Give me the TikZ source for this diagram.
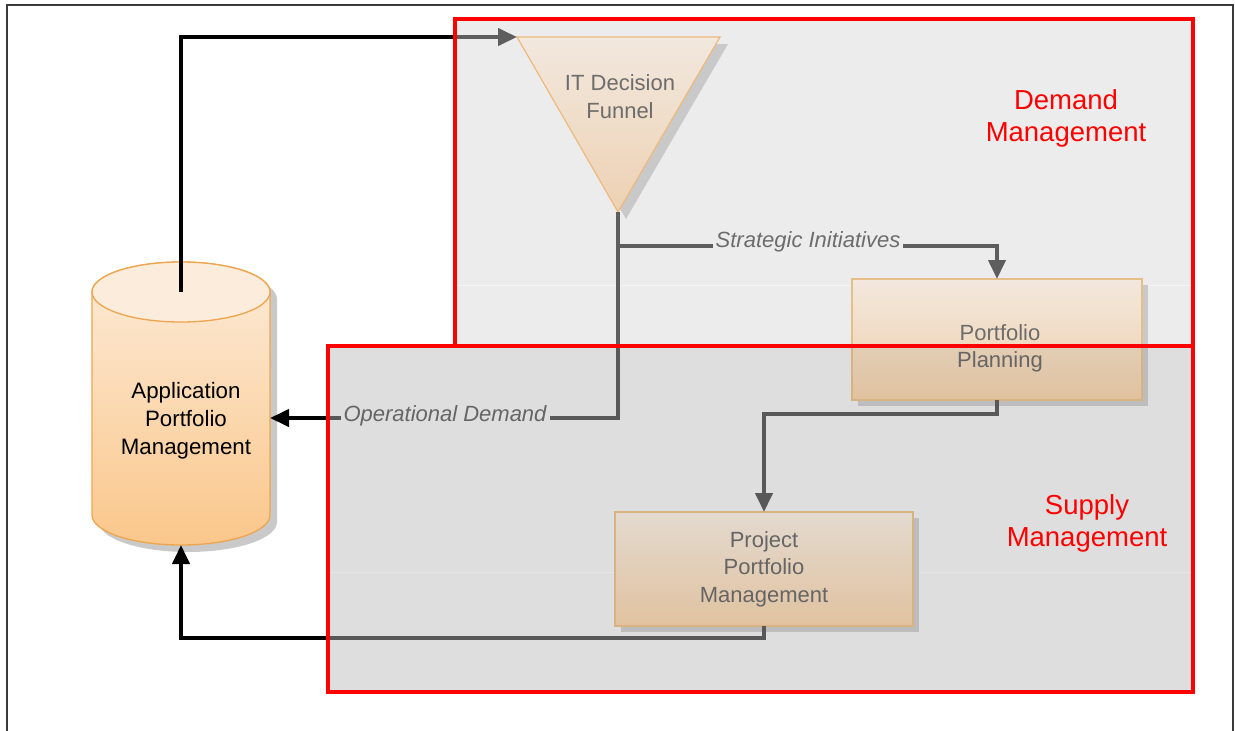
\documentclass[tikz,border=0pt]{standalone}
\usepackage{fontspec}
\setmainfont{Liberation Sans}
\usetikzlibrary{arrows.meta,calc,shadows}

\definecolor{regionbg}{HTML}{ECECEC}
\definecolor{flowgray}{HTML}{5E5E5E}
\definecolor{boxtxt}{HTML}{6C6C6C}
\definecolor{tanedge}{HTML}{E6BE88}
\definecolor{tantop}{HTML}{F2E8DD}
\definecolor{tanbot}{HTML}{F0CFAA}
\definecolor{funneltop}{HTML}{F2E8DE}
\definecolor{funnelbot}{HTML}{EDD1B3}
\definecolor{funneledge}{HTML}{EDB97E}
\definecolor{cyltop}{HTML}{FDEBD8}
\definecolor{cylbot}{HTML}{FAC78B}
\definecolor{cylcap}{HTML}{FCECDC}
\definecolor{cyledge}{HTML}{EEA54E}
\definecolor{shadowgray}{HTML}{C9C9C9}
\definecolor{regionred}{HTML}{FF0000}
\definecolor{framegray}{HTML}{3A3A3A}

\begin{document}
\begin{tikzpicture}[x=1pt,y=-1pt,
  region/.style={rectangle, draw=none, fill=regionbg, inner sep=0pt, outer sep=0pt, anchor=north west},
  solidshadow/.style={general shadow={fill=shadowgray, shadow xshift=6pt, shadow yshift=-6pt}},
  tanbox/.style={rectangle, draw=tanedge, line width=1.3pt, top color=tantop, bottom color=tanbot,
    inner sep=0pt, outer sep=0pt, solidshadow},
  boxtext/.style={font=\fontsize{22}{27.5}\selectfont, text=boxtxt, align=center},
  apptext/.style={font=\fontsize{22.3}{28}\selectfont, text=black, align=center},
  flowlabel/.style={font=\fontsize{22}{26}\selectfont\itshape, text=boxtxt, fill=regionbg,
    inner xsep=3pt, inner ysep=1pt},
  regiontitle/.style={font=\fontsize{27.5}{32}\selectfont, text=regionred, align=center},
  flow/.style={draw=flowgray, line width=4pt},
  link/.style={draw=black, line width=4pt},
  tip/.style={-{Triangle[length=19pt,width=17pt]}}
]
\useasboundingbox (0,0) rectangle (1235,731);

% region backgrounds
\node[region, minimum width=738pt, minimum height=327pt] (demand) at (455,19) {};
\node[region, minimum width=865pt, minimum height=346pt] (supply) at (328,346) {};
\draw[white, opacity=0.45, line width=0.8pt] (455,285) -- (1193,285);
\draw[white, opacity=0.45, line width=0.8pt] (328,572) -- (1193,572);

% IT decision funnel
\coordinate (ftl) at (517,37);
\coordinate (ftr) at (720,37);
\coordinate (fap) at (618,212);
\shadedraw[top color=funneltop, bottom color=funnelbot, draw=funneledge, line width=1.2pt,
  general shadow={fill=shadowgray, shadow xshift=8pt, shadow yshift=-7pt}]
  (ftl) -- (ftr) -- (fap) -- cycle;
\node[boxtext] (funnel) at (620,96.5) {IT Decision\\Funnel};

% application portfolio cylinder
\coordinate (apptop) at (181,292);
\coordinate (appbot) at (181,545);
\coordinate (appeast) at (270,418);
\shadedraw[top color=cyltop, bottom color=cylbot, draw=cyledge, line width=1.3pt,
  general shadow={fill=shadowgray, shadow xshift=7pt, shadow yshift=-7pt}]
  (92,292) -- (92,515) arc[start angle=180, end angle=360, x radius=89pt, y radius=30pt]
  -- (270,292) arc[start angle=0, end angle=180, x radius=89pt, y radius=30pt] -- cycle;
\filldraw[fill=cylcap, draw=cyledge, line width=1.3pt] (apptop) ellipse[x radius=89pt, y radius=30pt];
\node[apptext] (app) at (186,421) {Application\\Portfolio\\Management};

% process boxes
\node[tanbox, minimum width=290pt, minimum height=121pt] (pp) at (997,339.5) {};
\node[boxtext] (pptext) at (1000,348.5) {Portfolio\\Planning};
\node[tanbox, boxtext, minimum width=298pt, minimum height=114pt] (proj) at (764,569) {Project\\Portfolio\\Management};

% connectors
\draw[link] (apptop) |- (demand.west |- ftl);
\draw[flow, tip] (demand.west |- ftl) -- (ftl);

\draw[flow, tip] (fap) -- ++(0,34) -| (pp.north);
\node[flowlabel] (si) at (808,242) {Strategic Initiatives};

\draw[flow] (fap) |- (supply.west |- appeast);
\draw[link, tip] (supply.west |- appeast) -- (appeast);
\node[flowlabel] (od) at (445,415.5) {Operational Demand};

\draw[flow, tip] (pp.south) -- ++(0,14) -| (proj.north);

\coordinate (retcorner) at (181,638);
\draw[flow] (proj.south) |- (supply.west |- retcorner);
\draw[link, tip] (supply.west |- retcorner) -| (appbot);

% supply area tint
\fill[black, opacity=0.06] (supply.north west) rectangle (supply.south east);

% region outlines and titles
\draw[regionred, line width=3.5pt] (demand.north west) rectangle (demand.south east);
\draw[regionred, line width=3.5pt] (supply.north west) rectangle (supply.south east);
\node[regiontitle] (dmtitle) at (1066,118) {Demand\\Management};
\node[regiontitle] (smtitle) at (1087,523) {Supply\\Management};

% outer frame
\draw[framegray, line width=1.3pt] (7,731) -- (7,5) -- (1233,5) -- (1233,731);
\end{tikzpicture}
\end{document}
